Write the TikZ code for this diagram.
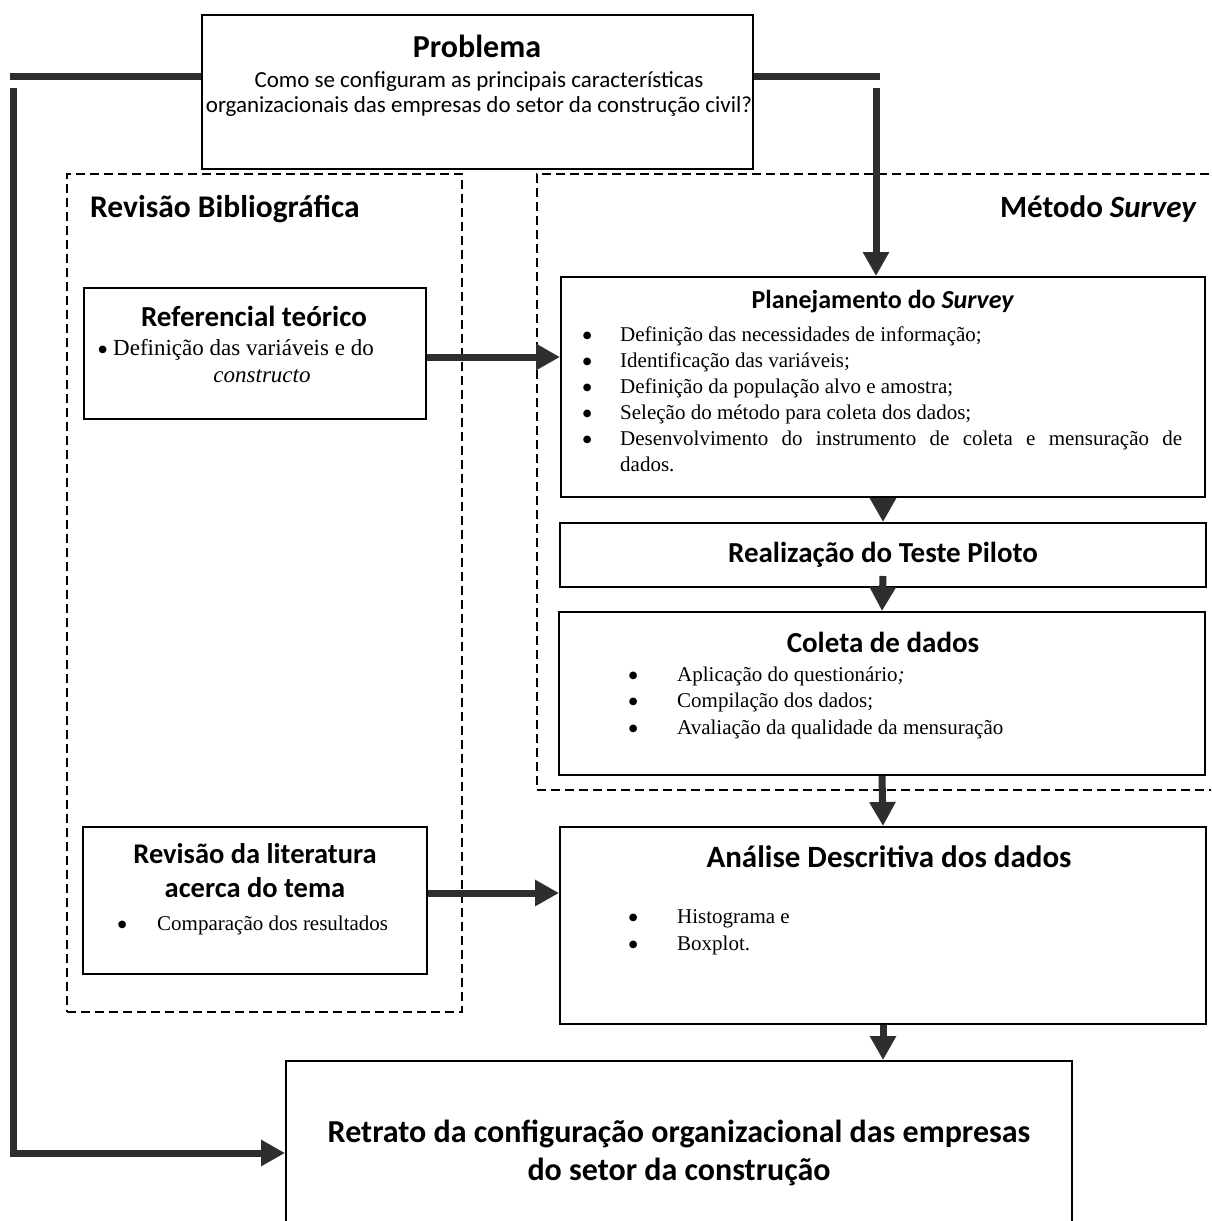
\documentclass[tikz,border=0pt]{standalone}
\usepackage{fontspec}
\setmainfont{Liberation Serif}
\newfontfamily\hdfont{Carlito}
\newfontfamily\symfont{DejaVu Sans}
\usetikzlibrary{arrows.meta,fit}
\definecolor{arrowgray}{HTML}{2E2E2E}

% list bullet in a slot of given width, the bullet centred in it
\newcommand\bul[1]{\makebox[#1pt][c]{\raisebox{3pt}{\symfont\fontsize{10}{10}\selectfont ●}}}

\tikzset{
  box/.style={draw=black,line width=2pt,inner sep=0pt},
  frame/.style={draw=black,line width=1.3pt,dash pattern=on 9pt off 5pt,inner sep=0pt},
  bar/.style={draw=arrowgray,line width=7pt},
  flow/.style={bar,-{Triangle[length=24pt,width=25pt]}},
  hd/.style={font=\hdfont\bfseries\fontsize{#1}{#1}\selectfont,inner sep=0pt},
  qtext/.style={font=\hdfont\fontsize{#1}{#1}\selectfont,inner sep=0pt},
  txt/.style={inner sep=0pt},
}

\begin{document}
\begin{tikzpicture}[x=1pt,y=-1pt]
\useasboundingbox (0,0) rectangle (1211,1221);
\fill[white] (0,0) rectangle (1211,1221);
\clip (0,0) rectangle (1211,1221);

% dashed group frames
\node[frame,fit={(67,174) (462,1012)}] (revF) {};
\node[frame,fit={(537,174) (1230,790)}] (metF) {};

% boxes
\node[box,fit={(202,15) (753,169)}] (prob) {};
\node[box,fit={(84,288) (426,419)}] (ref) {};
\node[box,fit={(83,827) (427,974)}] (lit) {};
\node[box,fit={(561,277) (1205,497)}] (plan) {};
\node[box,fit={(560,523) (1206,587)}] (real) {};
\node[box,fit={(559,612) (1205,775)}] (col) {};
\node[box,fit={(560,827) (1206,1024)}] (ana) {};
\node[box,fit={(286,1061) (1072,1245)}] (ret) {};

% problem
\node[hd=32,anchor=base] (probT) at (477,57) {Problema};
\node[qtext=23,anchor=base] (probQ1) at (479,87) {Como se configuram as principais características};
\node[qtext=23,anchor=base] (probQ2) at (479,112) {organizacionais das empresas do setor da construção civil?};

% group titles
\node[hd=31.5,anchor=base west] (revT) at (90,217) {Revisão Bibliográfica};
\node[hd=31,anchor=base east] (metT) at (1197,217) {Método \textit{Survey}};

% literature side
\node[hd=29,anchor=base] (refT) at (254,326) {Referencial teórico};
\node[txt,anchor=base west,font=\fontsize{23}{27}\selectfont] (refL) at (92,355)
  {\bul{21}Definição das variáveis e do};
\node[txt,anchor=base,font=\fontsize{23}{27}\selectfont\itshape] (refL2) at (262,382) {constructo};

\node[hd=28.5,anchor=base] (litT1) at (255,863) {Revisão da literatura};
\node[hd=28.5,anchor=base] (litT2) at (255,897) {acerca do tema};
\node[txt,anchor=base west,font=\fontsize{21}{26}\selectfont] (litL) at (87,930)
  {\bul{70}Comparação dos resultados};

% survey side
\node[hd=26,anchor=base] (planT) at (883,308) {Planejamento do \textit{Survey}};
\node[txt,anchor=base west,font=\fontsize{21}{26}\selectfont] (planL) at (554,341)
  {\begin{tabular}[t]{@{}l@{}l@{}}
   \bul{66} & Definição das necessidades de informação;\\
   \bul{66} & Identificação das variáveis;\\
   \bul{66} & Definição da população alvo e amostra;\\
   \bul{66} & Seleção do método para coleta dos dados;\\
   \bul{66} & \makebox[562pt][s]{Desenvolvimento do instrumento de coleta e mensuração de}\\
            & dados.
   \end{tabular}};

\node[hd=29,anchor=base] (realT) at (883,562) {Realização do Teste Piloto};

\node[hd=29,anchor=base] (colT) at (883,652) {Coleta de dados};
\node[txt,anchor=base west,font=\fontsize{21}{26.5}\selectfont] (colL) at (589,681)
  {\begin{tabular}[t]{@{}l@{}l@{}}
   \bul{88} & Aplicação do questionário\textit{;}\\
   \bul{88} & Compilação dos dados;\\
   \bul{88} & Avaliação da qualidade da mensuração
   \end{tabular}};

\node[hd=31,anchor=base] (anaT) at (889,867) {Análise Descritiva dos dados};
\node[txt,anchor=base west,font=\fontsize{21}{27}\selectfont] (anaL) at (589,923)
  {\begin{tabular}[t]{@{}l@{}l@{}}
   \bul{88} & Histograma e\\
   \bul{88} & Boxplot.
   \end{tabular}};

\node[hd=32,anchor=base] (retT1) at (679,1142) {Retrato da configuração organizacional das empresas};
\node[hd=32,anchor=base] (retT2) at (679,1180) {do setor da construção};

% connectors
\coordinate (lt) at (10,76);
\coordinate (lb) at (13,88);
\coordinate (rt) at (880,76);
\coordinate (rb) at (876,88);
\draw[bar] (prob.west |- lt) -- (lt);
\draw[bar] (prob.east |- rt) -- (rt);
\draw[flow] (lb) |- (ret.west);
\draw[flow] (rb) -- (rb |- plan.north);
\draw[flow] ([yshift=-3.5pt]ref.east) -- ([yshift=-3.5pt]ref.east -| plan.west);
\draw[flow] ([yshift=7.5pt]lit.east) -- ([yshift=7.5pt]lit.east -| ana.west);
\draw[flow] (plan.south) -- (real.north);
\draw[flow] ([yshift=12pt]real.south) -- (col.north);
\draw[flow] (col.south) -- (ana.north);
\draw[flow] (ana.south) -- (ana.south |- ret.north);
\end{tikzpicture}
\end{document}
